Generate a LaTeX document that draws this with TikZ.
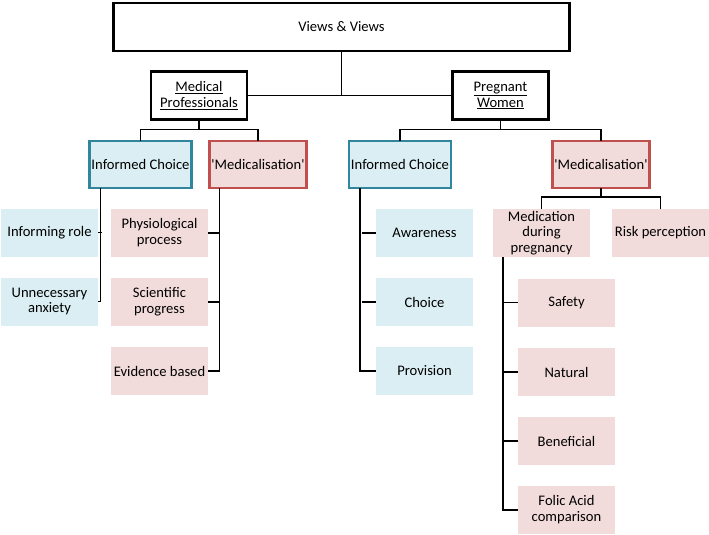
\documentclass[tikz,border=0pt]{standalone}
\usepackage{fontspec}
\setmainfont{Carlito}
\usepackage{tikz}
\usetikzlibrary{calc}
\usetikzlibrary{positioning}
\definecolor{icborder}{RGB}{49, 133, 156}
\definecolor{icfill}{RGB}{218, 238, 243}
\definecolor{medborder}{RGB}{192, 80, 77}
\definecolor{medfill}{RGB}{242, 220, 219}

\tikzset{
    base/.style   = {align=center, inner sep=2pt, outer sep=0pt,
                     font=\fontsize{14.6}{15.8}\selectfont},
    rootbox/.style  = {base, draw, line width=2.5pt, minimum width=456, minimum height=48},
    groupbox/.style = {base, draw, line width=2.5pt, minimum width=96, minimum height=48},
    icbox/.style    = {base, draw=icborder, fill=icfill, line width=2.5pt,
                       minimum width=97, minimum height=47},
    medbox/.style   = {base, draw=medborder, fill=medfill, line width=2.5pt,
                       minimum width=97, minimum height=47},
    icleaf/.style   = {base, fill=icfill, minimum width=97, minimum height=48},
    medleaf/.style  = {base, fill=medfill, minimum width=97, minimum height=48},
    link/.style     = {line width=1.6pt}
}

\begin{document}
\begin{tikzpicture}[x=1pt, y=-1pt]
            \useasboundingbox (0, 0) rectangle (709, 535);
            % Top level
            \node[rootbox]  (root)   at (341.5,  27.0) {Views \& Views};
            \node[groupbox] (medpro) at (199.0,  95.5) {\underline{Medical}\\\underline{Professionals}};
            \node[groupbox] (pregw)  at (500.5,  95.5) {\underline{Pregnant}\\\underline{Women}};
            % Themes
            \node[icbox]    (icA)    at (140.5, 164.5) {Informed Choice};
            \node[medbox]   (medA)   at (258.0, 164.5) {\textquotesingle Medicalisation\textquotesingle};
            \node[icbox]    (icB)    at (400.0, 164.5) {Informed Choice};
            \node[medbox]   (medB)   at (601.0, 164.5) {\textquotesingle Medicalisation\textquotesingle};
            % Medical Professionals leaves
            \node[icleaf]   (inform)  at ( 49.5, 232.5) {Informing role};
            \node[icleaf]   (anxiety) at ( 49.5, 301.5) {Unnecessary\\anxiety};
            \node[medleaf]  (physio)  at (159.5, 233.0) {Physiological\\process};
            \node[medleaf]  (science) at (159.5, 302.0) {Scientific\\progress};
            \node[medleaf]  (evidence)at (159.5, 371.0) {Evidence based};
            % Pregnant Women leaves
            \node[icleaf]   (aware)   at (424.5, 233.0) {Awareness};
            \node[icleaf]   (choice)  at (424.5, 302.0) {Choice};
            \node[icleaf]   (provide) at (424.5, 371.0) {Provision};
            \node[medleaf]  (medic)   at (541.5, 233.0) {Medication\\during\\pregnancy};
            \node[medleaf]  (risk)    at (660.5, 233.0) {Risk perception};
            \node[medleaf]  (safety)  at (566.5, 302.5) {Safety};
            \node[medleaf]  (natural) at (566.5, 372.0) {Natural};
            \node[medleaf]  (benefit) at (566.5, 441.0) {Beneficial};
            \node[medleaf]  (folic)   at (566.5, 510.0) {Folic Acid\\comparison};
            % Root links
            \draw[link] (medpro.east) -- (pregw.west);
            \draw[link] (root.south) -- (root.south |- medpro.east);
            % Group forks
            \draw[link] (medpro.south) -- ++(0, 10) coordinate (mpfork);
            \draw[link] (icA.north) |- (mpfork) -| (medA.north);
            \draw[link] (pregw.south)  -- ++(0, 10) coordinate (pwfork);
            \draw[link] (icB.north) |- (pwfork) -| (medB.north);
            \draw[link] (medB.south)   -- ++(0,  9) coordinate (mbfork);
            \draw[link] (medic.north) |- (mbfork) -| (risk.north);
            % Leaf combs
            \draw[link] ([xshift=11]icA.south west)  |- (anxiety.east);
            \draw[link] (inform.east) -- ++(4, 0);
            \draw[link] ([xshift=10]medA.south west) |- (evidence.east);
            \draw[link] (physio.east)  -- ++(11, 0);
            \draw[link] (science.east) -- ++(11, 0);
            \draw[link] ([xshift=11]icB.south west)  |- (provide.west);
            \draw[link] (aware.west)   -- ++(-14, 0);
            \draw[link] (choice.west)  -- ++(-14, 0);
            \draw[link] ([xshift=10]medic.south west) |- (folic.west);
            \draw[link] (safety.west)  -- ++(-15, 0);
            \draw[link] (natural.west) -- ++(-15, 0);
            \draw[link] (benefit.west) -- ++(-15, 0);
        \end{tikzpicture}
\end{document}
